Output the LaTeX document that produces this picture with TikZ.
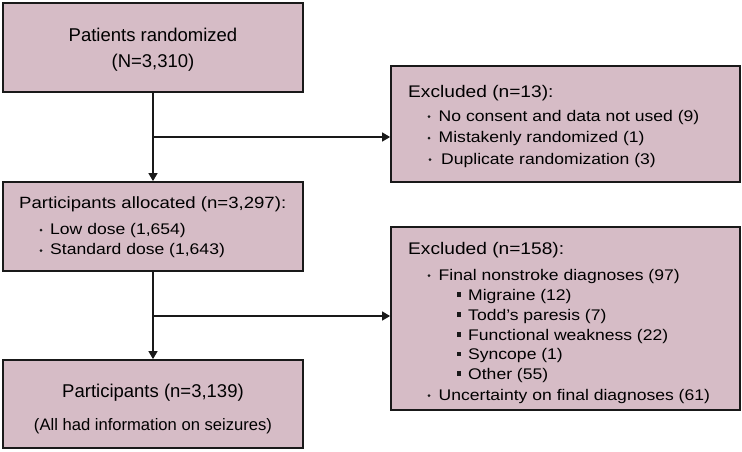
\documentclass[tikz,border=0pt]{standalone}
\usepackage{fontspec}
\setmainfont{Liberation Sans}
\newfontfamily\wf[FakeStretch=1.14]{Liberation Sans}
\usetikzlibrary{arrows.meta}
\definecolor{boxfill}{RGB}{214,188,198}
\definecolor{boxline}{RGB}{25,25,25}
\tikzset{
  box/.style={draw=boxline, line width=1.8pt, fill=boxfill, inner sep=0pt},
  arr/.style={line width=1.4pt, draw=boxline, -{Triangle[length=8pt,width=9pt]}},
  headc/.style={inner sep=0pt, anchor=base, font=\fontsize{18.5}{22}\selectfont},
  headw/.style={inner sep=0pt, anchor=base west, font=\wf\fontsize{16.8}{20}\selectfont},
  headb/.style={inner sep=0pt, anchor=base west, font=\wf\fontsize{16.3}{20}\selectfont},
  item/.style={inner sep=0pt, anchor=base west, font=\wf\fontsize{15.4}{19}\selectfont},
  small/.style={inner sep=0pt, anchor=base, font=\fontsize{16.6}{20}\selectfont},
  bdot/.style={fill=boxline, circle, inner sep=0pt, minimum size=3pt},
  bsq/.style={fill=boxline, rectangle, inner sep=0pt, minimum size=4.2pt},
}
\begin{document}
\begin{tikzpicture}[x=1pt,y=-1pt]
\useasboundingbox (0,0) rectangle (742,451);
% boxes
\node[box, minimum width=300pt, minimum height=89pt] (b1) at (153,47.5) {};
\node[box, minimum width=300pt, minimum height=89pt] (b2) at (153,226.5) {};
\node[box, minimum width=300pt, minimum height=88pt] (b3) at (153,404) {};
\node[box, minimum width=349pt, minimum height=116pt] (e1) at (565.5,124) {};
\node[box, minimum width=349pt, minimum height=183pt] (e2) at (565.5,318.5) {};
% connectors
\coordinate (j1) at (153,137);
\coordinate (j2) at (153,316);
\draw[arr] (b1.south) -- (b2.north);
\draw[arr] (b2.south) -- (b3.north);
\draw[arr] (j1) -- (e1.west |- j1);
\draw[arr] (j2) -- (e2.west |- j2);
% box 1 text
\node[headc] (t1a) at (153,41.7) {Patients randomized};
\node[headc] (t1b) at (153,67.5) {(N=3,310)};
% box 2 text
\node[headb] (t2a) at (19,208) {Participants allocated (n=3,297):};
\node[item] (t2b) at (50,234) {Low dose (1,654)};
\node[item] (t2c) at (50,254.5) {Standard dose (1,643)};
\node[bdot] (d2b) at (41,230) {};
\node[bdot] (d2c) at (41,250.5) {};
% box 3 text
\node[headc] (t3a) at (153,397) {Participants (n=3,139)};
\node[small] (t3b) at (153,430.5) {(All had information on seizures)};
% excluded 1
\node[headw] (e1a) at (408,97.5) {Excluded (n=13):};
\node[item] (e1b) at (438.5,121) {No consent and data not used (9)};
\node[item] (e1c) at (438.5,142.5) {Mistakenly randomized (1)};
\node[item] (e1d) at (441,164) {Duplicate randomization (3)};
\node[bdot] (de1b) at (429,116.5) {};
\node[bdot] (de1c) at (429,138) {};
\node[bdot] (de1d) at (430,159.5) {};
% excluded 2
\node[headw] (e2a) at (408,254) {Excluded (n=158):};
\node[item] (e2b) at (438.5,280) {Final nonstroke diagnoses (97)};
\node[item] (e2c) at (468,300) {Migraine (12)};
\node[item] (e2d) at (468,320) {Todd’s paresis (7)};
\node[item] (e2e) at (468,340) {Functional weakness (22)};
\node[item] (e2f) at (468,359.5) {Syncope (1)};
\node[item] (e2g) at (468,379) {Other (55)};
\node[item] (e2h) at (438.5,400) {Uncertainty on final diagnoses (61)};
\node[bdot] (de2b) at (429,275.5) {};
\node[bdot] (de2h) at (429,395.5) {};
\node[bsq] (se2c) at (459,294.5) {};
\node[bsq] (se2d) at (459,314.5) {};
\node[bsq] (se2e) at (459,334.5) {};
\node[bsq] (se2f) at (459,354) {};
\node[bsq] (se2g) at (459,373.5) {};
\end{tikzpicture}
\end{document}
